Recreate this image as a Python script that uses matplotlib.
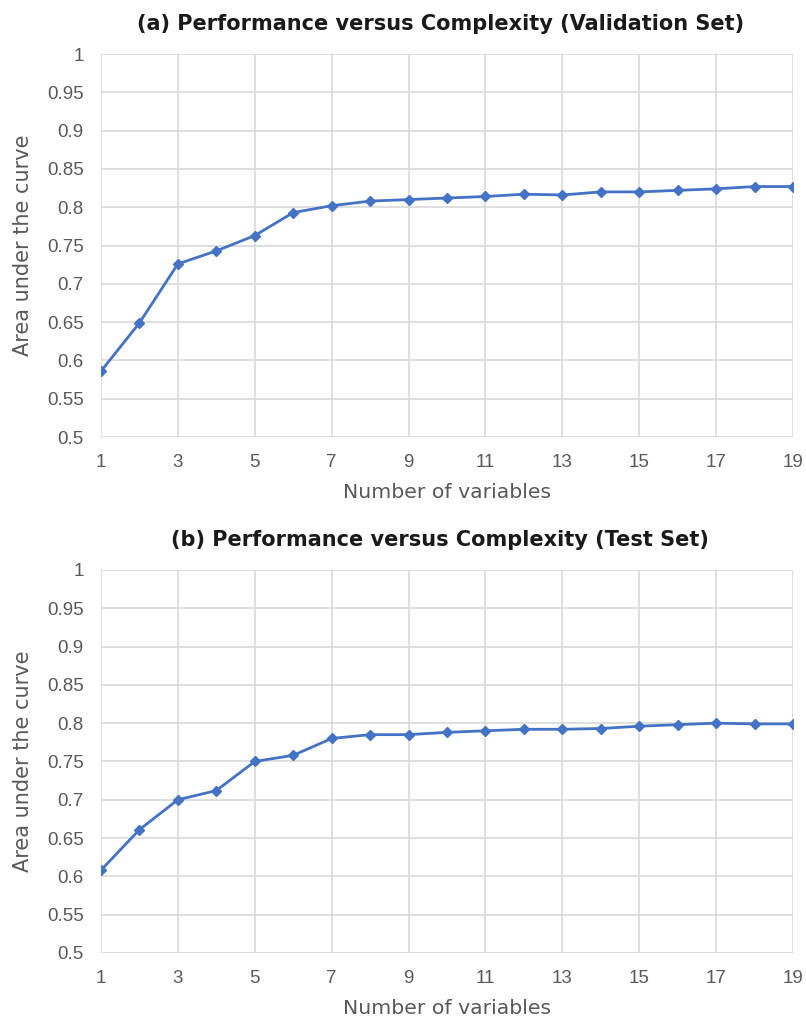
import matplotlib
matplotlib.use("Agg")
import matplotlib.pyplot as plt
from matplotlib.ticker import MultipleLocator, FuncFormatter

plt.rcParams['font.family'] = ['Liberation Sans', 'DejaVu Sans']

# number of variables in the model
n_vars = list(range(1, 20))

# area under the curve, validation set
auc_validation = [0.586, 0.649, 0.726, 0.743, 0.763, 0.793, 0.802, 0.808, 0.810, 0.812,
                  0.814, 0.817, 0.816, 0.820, 0.820, 0.822, 0.824, 0.827, 0.827]

# area under the curve, test set
auc_test = [0.608, 0.661, 0.700, 0.712, 0.750, 0.758, 0.780, 0.785, 0.785, 0.788,
            0.790, 0.792, 0.792, 0.793, 0.796, 0.798, 0.800, 0.799, 0.799]

titles = ['(a) Performance versus Complexity (Validation Set)',
          '(b) Performance versus Complexity (Test Set)']
x_ticks = list(range(1, 20, 2))

LINE_COLOR = '#4472C4'
GRID_COLOR = '#d9d9d9'
TEXT_COLOR = '#595959'
# the excel export has wide letter spacing, DejaVu comes closest in width
LABEL_FONT = ['DejaVu Sans']


def fmt_tick(v, pos):
    return ('%.2f' % v).rstrip('0').rstrip('.')


def draw_panel(ax, values, title):
    ax.plot(n_vars, values, color=LINE_COLOR, linewidth=2.0,
            marker='D', markersize=5.5, zorder=3)
    ax.set_xlim(1, 19)
    ax.set_ylim(0.5, 1.0)
    ax.set_xticks(x_ticks)
    ax.yaxis.set_major_locator(MultipleLocator(0.05))
    ax.yaxis.set_major_formatter(FuncFormatter(fmt_tick))
    ax.grid(True, color=GRID_COLOR, linewidth=1.2, zorder=0)
    ax.set_axisbelow(True)
    for s in ax.spines.values():
        s.set_visible(False)
    ax.tick_params(length=0, labelsize=13.5, colors=TEXT_COLOR)
    ax.tick_params(axis='y', pad=12.5)
    ax.tick_params(axis='x', pad=12)
    ax.set_xlabel('Number of variables', fontsize=14.7, color=TEXT_COLOR,
                  labelpad=9, family=LABEL_FONT)
    ax.set_ylabel('Area under the curve', fontsize=15, color=TEXT_COLOR,
                  labelpad=10, family=LABEL_FONT)
    # excel centres the title on the chart area, a bit left of the plot centre
    ax.set_title(title, fontsize=15, fontweight='bold', color='#1a1a1a',
                 pad=17, x=0.49, family=LABEL_FONT)


fig = plt.figure(figsize=(8.06, 10.19), dpi=100)
ax_a = fig.add_axes([0.1253, 0.5711, 0.8586, 0.3759])
ax_b = fig.add_axes([0.1253, 0.0648, 0.8586, 0.3759])

draw_panel(ax_a, auc_validation, titles[0])
draw_panel(ax_b, auc_test, titles[1])

fig.savefig('out.png', dpi=100, facecolor='white')
